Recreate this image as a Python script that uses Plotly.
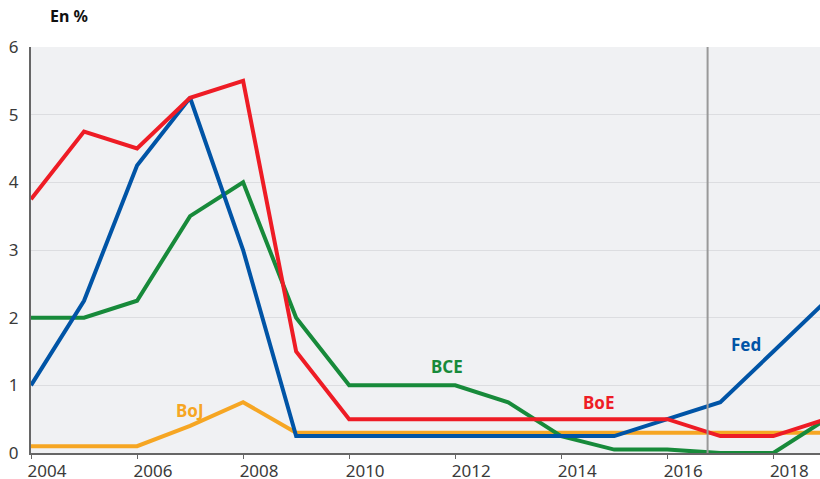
import plotly.graph_objects as go

years = [2004, 2005, 2006, 2007, 2008, 2009, 2010, 2011, 2012, 2013, 2014, 2015, 2016, 2017, 2018, 2019]
fed = [1.0, 2.25, 4.25, 5.25, 3.0, 0.25, 0.25, 0.25, 0.25, 0.25, 0.25, 0.25, 0.5, 0.75, 1.5, 2.25]
boe = [3.75, 4.75, 4.5, 5.25, 5.5, 1.5, 0.5, 0.5, 0.5, 0.5, 0.5, 0.5, 0.5, 0.25, 0.25, 0.5]
bce = [2.0, 2.0, 2.25, 3.5, 4.0, 2.0, 1.0, 1.0, 1.0, 0.75, 0.25, 0.05, 0.05, 0.0, 0.0, 0.5]
boj = [0.1, 0.1, 0.1, 0.4, 0.75, 0.3, 0.3, 0.3, 0.3, 0.3, 0.3, 0.3, 0.3, 0.3, 0.3, 0.3]

series = [
    ("BoJ", boj, "#f6a623"),
    ("BCE", bce, "#178a3a"),
    ("Fed", fed, "#0054a6"),
    ("BoE", boe, "#ee1c25"),
]
labels = [
    ("BCE", 2011.85, 1.28, "#178a3a"),
    ("BoE", 2014.7, 0.74, "#ee1c25"),
    ("BoJ", 2007.0, 0.63, "#f6a623"),
    ("Fed", 2017.49, 1.6, "#0054a6"),
]
vline_x = 2016.76

fig = go.Figure()
for name, vals, color in series:
    fig.add_trace(go.Scatter(x=years, y=vals, mode="lines", name=name,
                             line=dict(color=color, width=4)))

for text, x, y, color in labels:
    fig.add_annotation(x=x, y=y, text=f"<b>{text}</b>", showarrow=False,
                       font=dict(color=color, size=17, family="Noto Sans"))

fig.add_shape(type="line", xref="x", yref="paper", x0=vline_x, x1=vline_x, y0=0, y1=1,
              line=dict(color="#999999", width=2))

fig.add_annotation(xref="paper", yref="paper", x=0.021, y=1.045, xanchor="left", yanchor="bottom",
                   text="<b>En %</b>", showarrow=False,
                   font=dict(color="#111111", size=16, family="Noto Sans"))

fig.update_layout(
    width=820, height=479,
    plot_bgcolor="#f0f1f3", paper_bgcolor="white",
    showlegend=False,
    margin=dict(l=31, r=0, t=47, b=26, autoexpand=False),
    font=dict(family="Noto Sans", size=17, color="#3a3a3a"),
    xaxis=dict(range=[2004, 2018.88], tickvals=list(range(2004, 2019, 2)),
               showgrid=False, showline=True, linecolor="#666666", linewidth=2,
               ticks="outside", ticklen=4, tickcolor="#666666", zeroline=False,
               ticklabelshift=16, ticklabelstandoff=-2, automargin=False),
    yaxis=dict(range=[0, 6], dtick=1, showgrid=True, gridcolor="#dcdde0", gridwidth=1,
               showline=True, linecolor="#666666", linewidth=2, zeroline=False, ticks="",
               ticklabelstandoff=7, automargin=False),
)

# page has a default body margin; drop it so the figure fills the window
fig.write_html("out.html", config={"responsive": False, "displayModeBar": False},
               post_script="document.body.style.margin='0px';")
